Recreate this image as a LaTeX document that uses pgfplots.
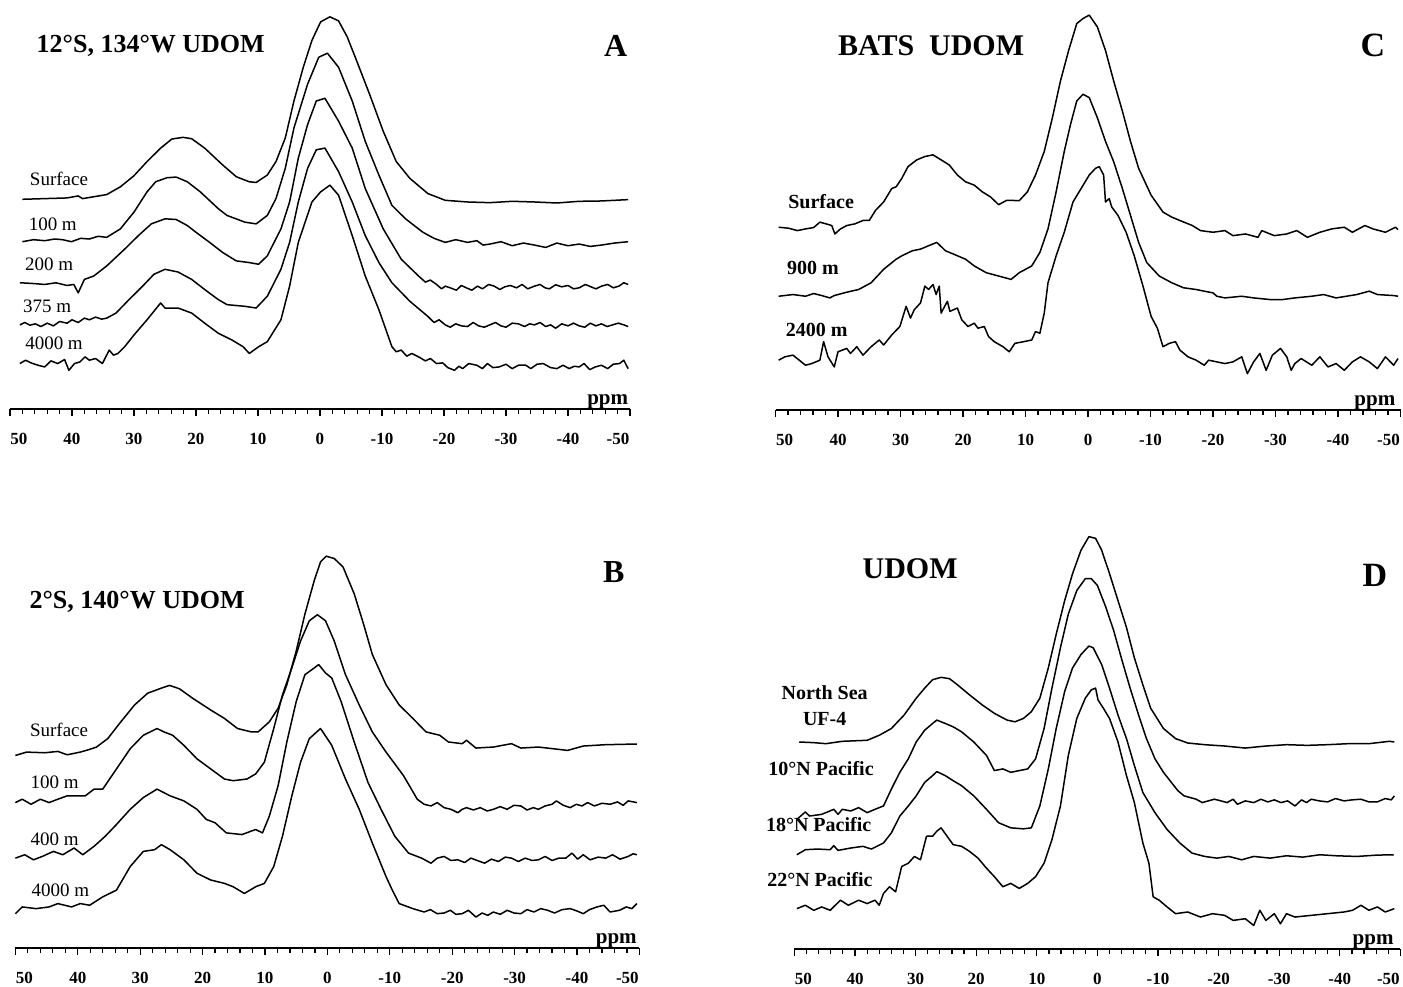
\documentclass[border=0pt]{standalone}
\usepackage{fontspec}
\setmainfont{Liberation Serif}
\usepackage{pgfplots}
\pgfplotsset{compat=1.18}

\pgfplotsset{
  nmr/.style={
    scale only axis,
    x dir=reverse,
    xmin=-50, xmax=50,
    axis y line=none,
    axis x line=bottom,
    x axis line style={-, line width=1pt},
    xtick={50,40,30,20,10,0,-10,-20,-30,-40,-50},
    xticklabels={{\makebox[0pt]{\hspace*{9pt}50}},40,30,20,10,0,-10,-20,-30,-40,{\makebox[0pt]{-50\hspace*{12pt}}}},
    minor x tick num=4,
    tick align=outside,
    major tick length=3.5pt,
    minor tick length=2.5pt,
    every tick/.style={black, line width=0.6pt},
    xticklabel style={font=\bfseries\fontsize{8.5}{8.5}\selectfont, inner sep=0pt, yshift=-8.5pt},
    clip=false,
    anchor=center,
  },
  spec/.style={black, line width=0.75pt, line join=round, mark=none},
}
\tikzset{
  lbl/.style={font=\fontsize{9.5}{9.5}\selectfont},
  blbl/.style={font=\bfseries\fontsize{10}{12.6}\selectfont, align=center},
}

\begin{document}
\begin{tikzpicture}
\path (0,0) rectangle (701.5pt,-493pt);

% ---------------- panel A ----------------
\begin{axis}[nmr, at={(160pt,-102.25pt)}, width=310pt, height=204.5pt, ymin=-1215, ymax=0]
\addplot[spec] coordinates {
(48.0,-592)(44.4,-590)(40.8,-588)(39.0,-582)(38.3,-590)(34.4,-578)(32.2,-555)(30.0,-522)
(27.9,-480)(25.7,-440)(23.9,-413)(22.1,-408)(20.7,-412)(18.6,-440)(15.7,-490)(13.5,-525)
(11.4,-540)(10.3,-542)(8.5,-520)(7.1,-480)(5.6,-410)(4.2,-300)(2.7,-200)(1.3,-120)
(-0.1,-65)(-1.6,-50)(-3.0,-62)(-4.4,-110)(-5.9,-180)(-8.0,-280)(-10.2,-390)(-12.3,-480)
(-14.5,-530)(-17.4,-575)(-20.2,-595)(-23.8,-600)(-27.4,-602)(-31.0,-598)(-34.6,-600)
(-38.2,-603)(-41.8,-598)(-45.4,-597)(-49.7,-593)
};
\addplot[spec] coordinates {
(48.0,-718)(46.2,-712)(44.4,-715)(42.8,-710)(41.5,-712)(40.1,-718)(38.6,-708)(37.2,-710)
(35.8,-702)(34.4,-705)(32.2,-680)(30.0,-630)
(27.9,-570)(26.5,-540)(24.7,-528)(23.2,-526)(21.4,-540)(19.3,-570)(16.4,-620)(15.0,-640)
(12.1,-660)(10.3,-665)(8.5,-640)(7.1,-590)(5.6,-500)(4.2,-380)(2.0,-250)(0.2,-170)
(-1.2,-158)(-3.0,-200)(-5.2,-300)(-7.3,-420)(-9.5,-520)(-11.6,-610)(-13.8,-650)(-16.6,-690)
(-18.4,-708)(-20.2,-720)(-21.9,-712)(-23.8,-720)(-25.3,-715)(-26.3,-728)(-27.4,-725)
(-29.2,-718)(-31.0,-730)(-32.8,-722)(-34.6,-728)(-36.4,-735)(-38.2,-722)(-40.0,-730)
(-41.8,-725)(-43.6,-732)(-45.4,-728)(-47.5,-722)(-49.7,-718)
};
\addplot[spec] coordinates {
(48.4,-840)(46.4,-842)(44.4,-845)(42.6,-840)(40.8,-848)(39.7,-845)(39.0,-870)(38.0,-830)
(36.5,-820)(34.4,-790)
(31.5,-740)(29.3,-700)(27.2,-665)(25.0,-650)(23.2,-652)(21.4,-670)(20.0,-690)(17.8,-720)
(15.7,-750)(13.5,-775)(11.4,-780)(9.9,-785)(8.5,-760)(6.3,-680)(4.9,-600)(3.5,-470)
(2.0,-370)(0.6,-300)(-0.8,-292)(-3.0,-360)(-5.2,-440)(-7.3,-560)(-10.2,-680)(-13.1,-770)
(-15.9,-820)(-17.0,-838)(-17.8,-832)(-18.8,-845)(-19.6,-858)(-20.2,-850)(-21.0,-855)
(-22.0,-862)(-22.8,-848)(-23.6,-855)(-24.5,-862)(-25.4,-850)(-26.2,-858)(-27.2,-845)
(-28.1,-850)(-29.0,-860)(-29.8,-852)(-30.7,-848)(-31.7,-855)(-32.6,-845)(-33.5,-858)
(-34.6,-850)(-35.5,-845)(-36.3,-855)(-37.0,-858)(-38.0,-846)(-39.0,-852)(-40.0,-848)
(-40.9,-858)(-41.8,-855)(-42.8,-845)(-43.7,-852)(-44.5,-858)(-45.4,-850)(-46.4,-845)
(-47.3,-855)(-48.2,-850)(-49.0,-840)(-49.7,-845)
};
\addplot[spec] coordinates {
(48.4,-965)(47.6,-958)(46.8,-966)(45.9,-962)(45.0,-970)(44.0,-960)(43.0,-968)(42.0,-955)
(40.8,-960)(40.0,-950)(39.0,-958)(38.0,-945)(37.2,-950)(36.2,-942)(35.2,-948)(34.4,-945)
(32.9,-930)(30.8,-890)
(28.6,-850)(26.8,-815)(25.0,-800)(22.9,-808)(20.7,-830)(18.6,-860)(16.4,-890)(15.0,-905)
(12.1,-910)(10.3,-915)(8.5,-880)(6.3,-800)(4.9,-720)(3.5,-600)(2.0,-500)(0.6,-445)
(-0.8,-440)(-3.0,-510)(-5.2,-600)(-7.3,-700)(-9.5,-780)(-11.6,-840)(-14.5,-895)
(-17.4,-940)(-18.4,-958)(-19.2,-950)(-20.2,-965)(-21.0,-972)(-21.9,-962)(-22.8,-968)
(-23.8,-970)(-24.7,-958)(-25.6,-968)(-26.5,-972)(-27.4,-965)(-28.3,-958)(-29.2,-968)
(-30.0,-972)(-31.0,-960)(-32.0,-962)(-33.0,-970)(-33.8,-962)(-34.6,-965)(-35.5,-958)
(-36.4,-970)(-37.2,-965)(-38.0,-975)(-39.0,-962)(-40.0,-968)(-40.9,-960)(-41.8,-968)
(-42.7,-972)(-43.6,-960)(-44.5,-968)(-45.4,-962)(-46.3,-970)(-47.2,-965)(-48.1,-960)
(-49.0,-965)(-49.7,-970)
};
\addplot[spec] coordinates {
(48.4,-1080)(47.5,-1070)(46.6,-1078)(45.5,-1085)(44.4,-1090)(43.4,-1072)(42.3,-1080)
(41.2,-1068)(40.5,-1100)(39.6,-1080)(38.7,-1075)(37.9,-1060)(37.2,-1070)(36.2,-1065)
(35.1,-1080)(34.0,-1040)(33.3,-1055)(32.6,-1050)(31.5,-1030)(30.0,-995)(27.9,-950)
(25.7,-900)(25.0,-915)(22.9,-915)(20.7,-930)(18.6,-960)(16.4,-990)(14.2,-1010)(12.4,-1030)
(11.4,-1050)(9.9,-1030)(8.5,-1015)(6.3,-950)(4.9,-850)(3.5,-720)(1.3,-600)(-0.1,-570)
(-1.6,-550)(-3.0,-580)(-5.2,-700)(-7.3,-820)(-9.5,-920)(-11.6,-1030)(-12.3,-1045)
(-13.1,-1040)(-14.0,-1058)(-14.8,-1050)(-15.9,-1060)(-17.0,-1072)(-17.8,-1065)
(-18.8,-1080)(-19.8,-1078)(-20.6,-1092)(-21.7,-1100)(-22.4,-1088)(-23.0,-1095)
(-24.0,-1080)(-25.3,-1085)(-26.2,-1095)(-27.0,-1080)(-27.9,-1092)(-28.9,-1090)
(-30.0,-1082)(-31.0,-1095)(-32.0,-1085)(-33.2,-1085)(-34.0,-1095)(-35.0,-1082)
(-36.0,-1080)(-37.2,-1092)(-38.2,-1095)(-39.2,-1085)(-40.2,-1095)(-41.0,-1088)
(-41.8,-1090)(-42.6,-1080)(-43.5,-1098)(-44.4,-1090)(-45.4,-1085)(-46.4,-1095)
(-47.3,-1082)(-48.3,-1080)(-49.0,-1070)(-49.7,-1095)
};
\node[font=\bfseries\fontsize{13}{13}\selectfont] at (axis cs:27.3,-135) {12°S, 134°W UDOM};
\node[font=\bfseries\fontsize{16}{16}\selectfont] at (axis cs:-47.7,-135) {A};
\node[lbl] at (axis cs:42.1,-530) {Surface};
\node[lbl] at (axis cs:43.1,-665) {100 m};
\node[lbl] at (axis cs:43.7,-785) {200 m};
\node[lbl] at (axis cs:44.0,-910) {375 m};
\node[lbl] at (axis cs:42.9,-1020) {4000 m};
\node[font=\bfseries\fontsize{10.5}{10.5}\selectfont, anchor=base] at (axis cs:-46.4,-1215) [yshift=2.2pt] {ppm};
\end{axis}

% ---------------- panel B ----------------
\begin{axis}[nmr, at={(163.7pt,-372pt)}, width=312pt, height=204pt, ymin=-1212, ymax=0]
\addplot[spec] coordinates {
(50.0,-640)(48.2,-630)(45.3,-632)(43.2,-628)(41.7,-638)(39.6,-630)(38.1,-622)(37.0,-615)
(35.2,-590)(33.1,-540)(30.9,-490)(28.8,-455)(26.6,-440)(25.3,-432)(23.7,-442)(21.6,-470)
(18.7,-505)(16.5,-530)(14.4,-560)(12.2,-570)(11.1,-570)(9.3,-540)(7.9,-500)(6.5,-430)
(5.0,-330)(3.6,-220)(2.1,-120)(1.1,-65)(0.2,-48)(-1.1,-55)(-2.5,-80)(-4.3,-160)(-5.8,-250)
(-7.2,-340)(-9.4,-430)(-11.5,-490)(-13.7,-530)(-15.8,-570)(-18.0,-580)(-19.4,-600)
(-21.6,-605)(-22.3,-595)(-23.8,-618)(-26.6,-615)(-29.5,-605)(-31.0,-618)(-33.8,-615)
(-38.5,-625)(-41.0,-612)(-44.6,-608)(-49.6,-606)
};
\addplot[spec] coordinates {
(50.0,-780)(48.9,-770)(47.5,-785)(46.0,-770)(44.6,-780)(43.2,-770)(41.7,-760)(38.8,-760)
(37.4,-740)(36.0,-740)(33.8,-680)(31.6,-620)(29.5,-580)(27.3,-560)(26.2,-570)(24.8,-580)
(23.0,-610)(20.9,-650)(18.7,-680)(16.5,-710)(15.1,-715)(12.9,-710)(11.5,-695)(10.1,-660)
(8.6,-560)(7.2,-460)(5.7,-380)(4.3,-300)(2.9,-240)(1.6,-222)(0.3,-240)(-1.1,-300)
(-2.9,-400)(-5.1,-490)(-7.2,-570)(-9.4,-630)(-12.2,-700)(-14.4,-770)(-15.5,-785)
(-16.6,-790)(-17.6,-780)(-18.7,-795)(-19.8,-800)(-20.9,-810)(-21.6,-800)(-22.3,-795)
(-23.4,-802)(-24.5,-795)(-25.6,-805)(-26.6,-800)(-27.7,-792)(-28.8,-800)(-29.9,-788)
(-31.0,-790)(-32.0,-802)(-33.0,-795)(-33.8,-800)(-34.9,-790)(-36.0,-785)(-36.7,-775)
(-37.8,-788)(-38.9,-795)(-39.9,-785)(-40.8,-790)(-41.7,-780)(-42.8,-790)(-44.0,-782)
(-45.3,-785)(-46.5,-778)(-47.4,-788)(-48.2,-775)(-49.6,-780)
};
\addplot[spec] coordinates {
(50.0,-945)(48.5,-935)(47.1,-950)(45.7,-940)(43.9,-925)(42.4,-935)(40.6,-915)(39.2,-935)
(37.4,-910)(35.6,-880)(33.8,-845)(31.6,-800)(29.5,-765)(27.3,-740)(25.2,-760)(23.0,-775)
(20.9,-800)(19.4,-830)(18.0,-840)(16.2,-870)(13.7,-875)(11.5,-860)(10.4,-870)(9.3,-820)
(7.9,-730)(6.5,-600)(5.0,-480)(3.6,-400)(2.1,-380)(1.4,-370)(0.3,-395)(-0.7,-410)
(-2.2,-480)(-4.3,-600)(-6.5,-720)(-8.6,-800)(-10.8,-880)(-13.0,-930)(-15.1,-945)
(-16.6,-960)(-17.6,-945)(-18.7,-940)(-19.8,-952)(-20.9,-950)(-22.0,-958)(-23.0,-945)
(-24.0,-952)(-25.2,-960)(-26.3,-948)(-27.4,-955)(-28.5,-942)(-29.5,-945)(-30.6,-955)
(-31.7,-945)(-32.8,-952)(-33.8,-950)(-34.9,-940)(-36.0,-952)(-37.1,-945)(-38.2,-945)
(-39.2,-930)(-40.1,-948)(-41.0,-935)(-42.1,-950)(-43.4,-942)(-44.6,-945)(-45.7,-935)
(-46.9,-948)(-48.2,-940)(-49.0,-932)(-49.6,-935)
};
\addplot[spec] coordinates {
(50.0,-1110)(48.9,-1090)(46.7,-1095)(44.6,-1090)(43.2,-1080)(41.0,-1090)(39.6,-1080)
(38.1,-1085)(36.0,-1060)(33.8,-1040)(31.6,-970)(29.5,-925)(27.7,-920)(26.6,-905)
(25.2,-920)(23.0,-950)(20.9,-990)(18.7,-1010)(16.5,-1020)(15.1,-1030)(13.3,-1050)
(11.5,-1030)(10.1,-1020)(8.6,-970)(7.2,-880)(5.7,-760)(4.3,-660)(2.9,-590)(1.1,-560)
(-0.7,-610)(-2.9,-710)(-5.1,-800)(-7.2,-900)(-9.4,-1000)(-10.4,-1040)(-11.5,-1080)
(-13.7,-1095)(-14.6,-1100)(-15.5,-1105)(-16.5,-1098)(-17.6,-1110)(-18.7,-1108)
(-19.7,-1100)(-20.6,-1112)(-21.6,-1110)(-22.6,-1100)(-23.8,-1120)(-24.8,-1108)
(-25.7,-1115)(-26.6,-1105)(-27.7,-1112)(-28.8,-1100)(-29.9,-1108)(-31.0,-1110)
(-32.0,-1098)(-33.1,-1105)(-34.2,-1095)(-35.3,-1100)(-36.4,-1108)(-37.6,-1098)
(-38.9,-1095)(-40.0,-1102)(-41.0,-1110)(-42.0,-1098)(-43.2,-1090)(-44.3,-1085)
(-45.3,-1105)(-46.8,-1100)(-47.9,-1090)(-48.8,-1095)(-49.6,-1080)
};
\node[font=\bfseries\fontsize{13}{13}\selectfont] at (axis cs:30.5,-185) {2°S, 140°W UDOM};
\node[font=\bfseries\fontsize{16}{16}\selectfont] at (axis cs:-45.9,-95) {B};
\node[lbl] at (axis cs:43.0,-565) {Surface};
\node[lbl] at (axis cs:43.7,-720) {100 m};
\node[lbl] at (axis cs:43.7,-890) {400 m};
\node[lbl] at (axis cs:42.8,-1040) {4000 m};
\node[font=\bfseries\fontsize{10.5}{10.5}\selectfont, anchor=base] at (axis cs:-46.3,-1212) [yshift=2.2pt] {ppm};
\end{axis}

% ---------------- panel C ----------------
\begin{axis}[nmr, at={(544pt,-102.5pt)}, width=312.5pt, height=205pt, ymin=-1218, ymax=0]
\addplot[spec] coordinates {
(49.5,-675)(47.9,-678)(46.5,-685)(45.2,-680)(43.9,-676)(42.9,-660)(41.9,-665)(41.0,-670)
(40.5,-695)(39.6,-680)(38.6,-670)(37.3,-665)(36.0,-655)(35.0,-655)(34.0,-625)(32.7,-600)
(31.4,-560)(30.7,-555)(29.8,-530)(28.8,-495)(27.4,-475)(26.1,-465)(24.8,-460)(23.5,-475)
(22.2,-490)(20.9,-520)(19.6,-540)(18.2,-550)(16.9,-570)(15.6,-585)(14.3,-608)(13.0,-595)
(11.0,-596)(9.7,-570)(8.4,-520)(7.0,-450)(5.7,-350)(4.4,-240)(3.1,-150)(1.8,-70)(0.8,-55)
(-0.2,-45)(-1.5,-80)(-2.8,-150)(-4.1,-240)(-5.5,-330)(-6.8,-420)(-8.1,-500)(-10.1,-580)
(-12.0,-630)(-13.4,-645)(-14.7,-655)(-16.7,-670)(-18.0,-685)(-20.0,-690)(-21.9,-685)
(-23.2,-700)(-25.2,-695)(-27.2,-705)(-27.8,-685)(-29.8,-700)(-31.8,-695)(-33.4,-685)
(-35.1,-705)(-37.1,-690)(-39.0,-680)(-41.0,-675)(-42.3,-690)(-44.3,-670)(-45.6,-680)
(-47.6,-690)(-49.2,-675)(-49.6,-682)
};
\addplot[spec] coordinates {
(49.5,-880)(47.2,-875)(45.2,-880)(43.9,-872)(42.6,-878)(41.3,-885)(40.6,-878)(38.6,-868)
(36.7,-860)(34.7,-840)(32.7,-800)(30.7,-770)(29.8,-760)(28.1,-745)(26.8,-740)(25.5,-730)
(24.2,-720)(22.8,-745)(21.5,-755)(19.6,-770)(18.2,-790)(16.3,-810)(14.3,-820)(12.3,-830)
(11.0,-810)(9.0,-790)(7.7,-750)(6.4,-680)(5.1,-570)(3.8,-450)(2.8,-370)(1.8,-300)
(0.8,-280)(-0.2,-290)(-1.5,-350)(-2.8,-420)(-4.1,-480)(-5.5,-560)(-6.8,-640)(-8.1,-720)
(-9.4,-780)(-11.4,-820)(-13.4,-840)(-15.3,-855)(-17.3,-860)(-18.6,-865)(-20.0,-870)
(-20.6,-880)(-21.9,-885)(-24.6,-880)(-26.5,-885)(-29.2,-890)(-31.1,-890)(-33.1,-885)
(-35.8,-880)(-37.7,-875)(-39.7,-885)(-43.0,-875)(-45.0,-865)(-46.3,-875)(-48.9,-878)
(-49.6,-880)
};
\addplot[spec] coordinates {
(49.5,-1070)(48.5,-1060)(47.2,-1055)(46.2,-1070)(45.2,-1085)(44.2,-1080)(42.9,-1070)
(42.3,-1015)(41.6,-1060)(40.6,-1090)(40.0,-1045)(38.6,-1035)(38.0,-1050)(37.0,-1030)
(36.0,-1055)(34.7,-1030)(33.4,-1010)(32.7,-1025)(31.4,-995)(30.1,-970)(29.1,-910)
(28.4,-945)(27.8,-920)(26.8,-900)(26.1,-850)(25.5,-860)(24.8,-845)(24.3,-875)(23.8,-850)
(23.5,-930)(22.5,-895)(22.1,-925)(20.9,-915)(20.2,-950)(19.2,-970)(18.2,-960)(17.6,-975)
(16.6,-970)(15.9,-1000)(15.0,-1015)(13.6,-1030)(12.6,-1045)(11.7,-1020)(10.3,-1015)
(9.0,-1010)(8.4,-985)(7.7,-990)(7.0,-930)(6.4,-840)(5.1,-760)(3.8,-690)(2.4,-600)
(1.1,-560)(-0.2,-520)(-1.2,-500)(-1.8,-495)(-2.5,-520)(-2.8,-600)(-3.4,-590)(-3.8,-615)
(-4.8,-640)(-6.1,-690)(-7.4,-760)(-8.8,-850)(-10.1,-940)(-11.1,-975)(-12.0,-1030)
(-13.0,-1020)(-14.0,-1015)(-14.7,-1040)(-16.0,-1060)(-17.3,-1070)(-18.6,-1085)
(-19.3,-1070)(-20.6,-1075)(-21.9,-1080)(-23.2,-1075)(-24.6,-1060)(-25.5,-1110)
(-26.5,-1075)(-27.5,-1050)(-28.5,-1100)(-29.5,-1055)(-30.8,-1035)(-31.8,-1060)
(-32.5,-1100)(-33.1,-1080)(-34.1,-1065)(-35.8,-1085)(-37.1,-1060)(-38.4,-1090)
(-39.7,-1080)(-41.0,-1100)(-42.3,-1075)(-43.6,-1060)(-45.0,-1075)(-46.3,-1095)
(-47.6,-1060)(-48.9,-1085)(-49.6,-1065)
};
\node[font=\bfseries\fontsize{15}{15}\selectfont] at (axis cs:25.1,-135) {BATS\ \ UDOM};
\node[font=\bfseries\fontsize{17}{17}\selectfont] at (axis cs:-45.6,-135) {C};
\node[blbl] at (axis cs:42.7,-600) {Surface};
\node[blbl] at (axis cs:44.0,-795) {900 m};
\node[blbl] at (axis cs:43.4,-980) {2400 m};
\node[font=\bfseries\fontsize{10.5}{10.5}\selectfont, anchor=base] at (axis cs:-45.9,-1218) [yshift=2.2pt] {ppm};
\end{axis}

% ---------------- panel D ----------------
\begin{axis}[nmr, at={(548.7pt,-367.2pt)}, width=303pt, height=214.6pt, ymin=-1215, ymax=60]
\addplot[spec] coordinates {
(49.2,-600)(46.8,-602)(44.8,-605)(42.1,-598)(38.0,-595)(36.0,-580)(34.0,-560)(31.9,-520)
(29.9,-470)(28.5,-440)(27.2,-415)(25.8,-408)(24.4,-412)(23.1,-430)(21.1,-460)(19.0,-490)
(17.0,-515)(14.9,-535)(13.6,-540)(12.2,-530)(10.9,-510)(9.5,-470)(8.1,-380)(6.8,-280)
(5.4,-180)(4.1,-100)(2.7,-30)(1.4,10)(0.3,5)(-0.7,-30)(-2.0,-100)(-3.4,-180)(-4.8,-260)
(-6.1,-350)(-7.5,-430)(-8.8,-500)(-10.9,-560)(-12.9,-590)(-14.9,-603)(-17.7,-608)
(-21.0,-612)(-24.4,-618)(-27.8,-612)(-31.2,-608)(-34.6,-610)(-38.0,-608)(-41.4,-605)
(-44.8,-605)(-48.2,-598)(-49.0,-600)
};
\addplot[spec] coordinates {
(49.6,-830)(48.2,-808)(47.5,-820)(45.5,-815)(43.5,-800)(42.8,-815)(42.1,-800)(40.7,-805)
(39.4,-795)(38.0,-810)(36.7,-800)(35.3,-790)(34.0,-740)(32.6,-690)(31.2,-650)(29.9,-600)
(28.5,-565)(27.2,-545)(26.5,-535)(25.1,-545)(23.8,-555)(22.4,-570)(20.4,-600)(18.3,-640)
(17.0,-685)(15.6,-680)(14.3,-690)(12.9,-685)(11.5,-680)(10.2,-650)(8.8,-560)(7.5,-440)
(6.1,-320)(4.8,-220)(3.4,-150)(2.0,-115)(1.0,-115)(0.0,-135)(-1.4,-200)(-2.7,-270)
(-4.1,-360)(-5.4,-440)(-6.8,-520)(-8.1,-590)(-9.5,-650)(-10.9,-690)(-12.2,-720)
(-13.3,-745)(-14.3,-760)(-15.3,-765)(-16.3,-770)(-17.3,-780)(-18.3,-775)(-19.3,-770)
(-20.4,-775)(-21.4,-780)(-22.4,-770)(-23.1,-785)(-24.4,-775)(-25.8,-780)(-27.0,-770)
(-28.1,-778)(-29.2,-772)(-30.3,-780)(-31.4,-775)(-32.6,-790)(-33.7,-772)(-34.5,-780)
(-35.3,-770)(-36.6,-775)(-38.0,-778)(-39.3,-768)(-40.7,-775)(-42.0,-772)(-43.5,-770)
(-44.8,-778)(-46.2,-778)(-47.5,-768)(-48.5,-772)(-49.0,-760)
};
\addplot[spec] coordinates {
(49.6,-935)(48.2,-920)(46.2,-918)(44.1,-920)(43.5,-908)(42.8,-922)(40.7,-915)(38.7,-910)
(37.3,-918)(35.3,-900)(34.0,-870)(32.6,-820)(31.2,-790)(29.9,-760)(28.5,-720)(27.2,-700)
(26.5,-688)(25.1,-700)(23.8,-715)(22.4,-730)(20.4,-760)(18.3,-800)(16.3,-840)(14.3,-855)
(12.2,-858)(10.9,-855)(9.5,-790)(8.1,-680)(6.8,-560)(5.4,-450)(4.1,-380)(2.7,-340)
(1.4,-315)(0.7,-320)(-0.7,-370)(-2.0,-440)(-3.4,-520)(-4.8,-590)(-6.1,-670)(-7.5,-750)
(-9.5,-810)(-11.5,-860)(-13.6,-900)(-15.6,-930)(-17.7,-940)(-19.7,-945)(-21.7,-940)
(-23.8,-950)(-25.8,-940)(-28.5,-945)(-31.2,-938)(-33.9,-942)(-36.7,-935)(-39.4,-938)
(-42.8,-940)(-46.2,-936)(-48.9,-935)
};
\addplot[spec] coordinates {
(49.6,-1095)(48.2,-1085)(46.8,-1100)(45.5,-1090)(44.1,-1100)(42.4,-1070)(41.1,-1085)
(39.4,-1070)(38.0,-1080)(36.7,-1070)(36.0,-1085)(35.3,-1050)(34.3,-1030)(33.3,-1045)
(32.3,-970)(31.2,-960)(30.2,-940)(29.2,-950)(28.2,-880)(27.2,-880)(26.5,-865)(25.8,-855)
(24.8,-880)(23.8,-905)(22.4,-910)(21.1,-925)(19.7,-945)(18.3,-975)(17.0,-1000)(15.6,-1030)
(14.3,-1020)(12.9,-1035)(11.5,-1020)(10.2,-1000)(8.8,-960)(7.5,-890)(6.1,-790)(4.8,-640)
(3.4,-530)(2.0,-470)(1.0,-445)(0.3,-440)(-0.1,-475)(-1.0,-500)(-2.0,-530)(-3.4,-600)
(-4.8,-700)(-6.1,-780)(-7.5,-900)(-8.5,-960)(-9.2,-1060)(-10.2,-1070)(-11.5,-1090)
(-12.9,-1110)(-14.9,-1105)(-17.0,-1120)(-19.0,-1110)(-21.0,-1115)(-22.4,-1130)
(-24.4,-1125)(-25.8,-1145)(-26.8,-1100)(-27.8,-1130)(-29.2,-1110)(-30.2,-1140)
(-31.2,-1110)(-32.6,-1120)(-35.3,-1115)(-38.0,-1110)(-40.7,-1105)(-42.1,-1100)
(-43.5,-1085)(-44.8,-1100)(-46.2,-1090)(-47.5,-1105)(-49.0,-1095)
};
\node[font=\bfseries\fontsize{15}{15}\selectfont] at (axis cs:30.9,-85) {UDOM};
\node[font=\bfseries\fontsize{17}{17}\selectfont] at (axis cs:-45.8,-105) {D};
\node[blbl] at (axis cs:45.0,-492) {North Sea\\UF-4};
\node[blbl] at (axis cs:45.6,-680) {10°N Pacific};
\node[blbl] at (axis cs:46.0,-845) {18°N Pacific};
\node[blbl] at (axis cs:45.8,-1010) {22°N Pacific};
\node[font=\bfseries\fontsize{10.5}{10.5}\selectfont, anchor=base] at (axis cs:-45.5,-1215) [yshift=2.2pt] {ppm};
\end{axis}
\end{tikzpicture}
\end{document}
